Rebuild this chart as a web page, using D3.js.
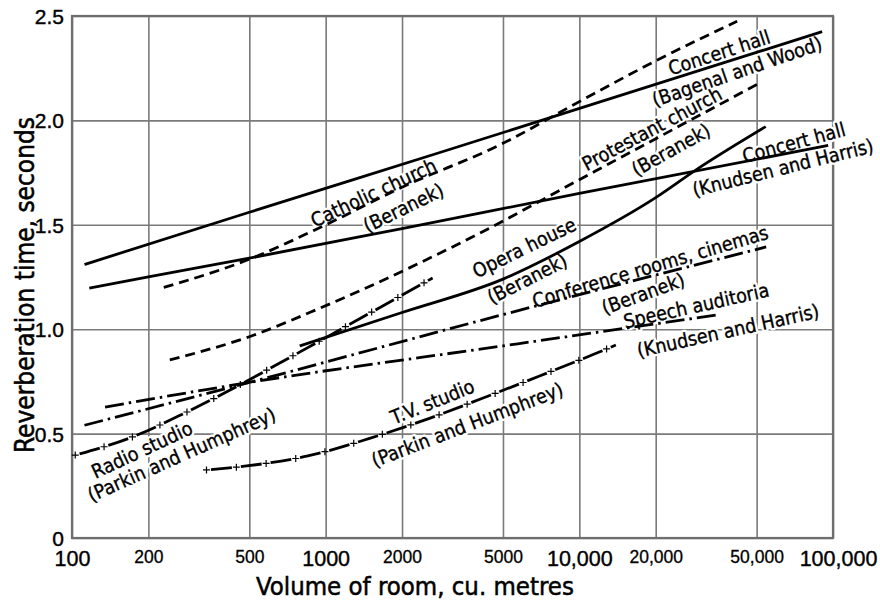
<!DOCTYPE html>
<html><head><meta charset="utf-8">
<script src="https://cdn.jsdelivr.net/npm/d3@7/dist/d3.min.js"></script>
<style>
body{margin:0;background:#fff;}
svg{display:block;font-family:"DejaVu Sans Condensed","DejaVu Sans",sans-serif;}
</style></head><body>
<svg id="chart" width="880" height="601"></svg>
<script>
// ---- data ----
const xMajorTicks = [100, 1000, 10000, 100000];
const xMajorLabels = ["100", "1000", "10,000", "100,000"];
const xMinorTicks = [200, 500, 2000, 5000, 20000, 50000];
const xMinorLabels = ["200", "500", "2000", "5000", "20,000", "50,000"];
const yTicks = [0, 0.5, 1.0, 1.5, 2.0, 2.5];
const yLabels = ["0", "0.5", "1.0", "1.5", "2.0", "2.5"];

// [volume m3, reverberation time s]
const concertHallBagenal = [[112,1.31],[500,1.56],[2800,1.845],[90600,2.425]];
const concertHallKnudsen = [[117,1.197],[200,1.251],[500,1.34],[2000,1.482],[10000,1.65],[95700,1.88]];
const catholicChurch = [[230,1.2],[500,1.335],[1000,1.5],[2000,1.68],[5000,1.89],[10000,2.09],[20000,2.285],[41900,2.475]];
const protestantChurch = [[243,0.853],[500,0.964],[946,1.10],[4036,1.459],[10000,1.716],[51200,2.178]];
const operaHouse = [[790,0.92],[2000,1.08],[5000,1.24],[10000,1.42],[20000,1.63],[28770,1.762],[54300,1.97]];
const conferenceRooms = [[112,0.54],[500,0.745],[5000,1.07],[54500,1.394]];
const speechAuditoria = [[135,0.627],[500,0.745],[5000,0.92],[34900,1.068]];
const radioStudio = [[103,0.397],[174,0.485],[279,0.599],[458,0.733],[659,0.838],[2640,1.245]];
const tvStudio = [[339,0.326],[488,0.345],[851,0.393],[1489,0.477],[2565,0.573],[4150,0.669],[6970,0.776],[11460,0.881],[13930,0.924]];

const seriesList = [
  {data: concertHallBagenal, style: "solid"},
  {data: concertHallKnudsen, style: "solid"},
  {data: catholicChurch, style: "dash"},
  {data: protestantChurch, style: "dash"},
  {data: operaHouse, style: "solid"},
  {data: conferenceRooms, style: "dashdot"},
  {data: speechAuditoria, style: "dashdot"},
  {data: radioStudio, style: "cross"},
  {data: tvStudio, style: "cross"}
];

// annotation text: [text, volume, time, angle]
const annotations = [
  ["Concert hall", 35600, 2.323, -18],
  ["(Bagenal and Wood)", 41900, 2.232, -19],
  ["Catholic church", 1546, 1.652, -25],
  ["(Beranek)", 2028, 1.580, -26],
  ["Protestant church", 19360, 1.959, -28],
  ["(Beranek)", 23000, 1.858, -29],
  ["Concert hall", 70100, 1.892, -15],
  ["(Knudsen and Harris)", 63500, 1.772, -14],
  ["Opera house", 6070, 1.389, -26],
  ["(Beranek)", 6240, 1.240, -27],
  ["Conference rooms, cinemas", 19050, 1.298, -16.5],
  ["(Beranek)", 17860, 1.169, -20],
  ["Speech auditoria", 28900, 1.111, -12.5],
  ["(Knudsen and Harris)", 38600, 0.991, -12.5],
  ["Radio studio", 189, 0.421, -25],
  ["(Parkin and Humphrey)", 271, 0.398, -24],
  ["T.V. studio", 2640, 0.651, -22],
  ["(Parkin and Humphrey)", 3620, 0.541, -21]
];

// ---- drawing ----
const svg = d3.select("#chart");
const L = 72, R = 833, T = 16, B = 538;
const x = d3.scaleLog().domain([100, 100000]).range([L, R]);
const y = d3.scaleLinear().domain([0, 2.5]).range([B, T]);

svg.append("rect").attr("width", 880).attr("height", 601).attr("fill", "#fff");

// grid
const gridX = svg.append("g").attr("transform", `translate(0,${B})`)
  .call(d3.axisBottom(x).tickValues(xMajorTicks.concat(xMinorTicks)).tickSize(-(B - T)).tickFormat(""));
gridX.select(".domain").remove();
gridX.selectAll("line").attr("stroke", "#7a7a7a").attr("stroke-width", 1.6);
const gridY = svg.append("g").attr("transform", `translate(${L},0)`)
  .call(d3.axisLeft(y).tickValues(yTicks).tickSize(-(R - L)).tickFormat(""));
gridY.select(".domain").remove();
gridY.selectAll("line").attr("stroke", "#7a7a7a").attr("stroke-width", 1.6);

// frame
svg.append("rect").attr("x", L).attr("y", T).attr("width", R - L).attr("height", B - T)
  .attr("fill", "none").attr("stroke", "#6e6e6e").attr("stroke-width", 2.2);

// annotation halos
const annG = svg.append("g");
function placeText(sel) {
  sel.attr("transform", d => `translate(${x(d[1])},${y(d[2])}) rotate(${d[3]})`)
    .attr("text-anchor", "middle").attr("dominant-baseline", "central")
    .attr("font-size", 19.5).text(d => d[0]);
}
annG.selectAll("text").data(annotations).join("text")
  .call(placeText).attr("fill", "#fff").attr("stroke", "#fff").attr("stroke-width", 5)
  .attr("stroke-linejoin", "round");

// curves
const line = d3.line().x(d => x(d[0])).y(d => y(d[1])).curve(d3.curveMonotoneX);
const curveG = svg.append("g").attr("fill", "none").attr("stroke", "#000");
const dashes = {solid: null, dash: "10 6", dashdot: "19 5 2.5 5", cross: "0 4.5 21 4.5"};
seriesList.forEach(s => {
  const p = curveG.append("path").attr("d", line(s.data))
    .attr("stroke-width", 2.8).attr("stroke-dasharray", dashes[s.style]);
  if (s.style === "cross") {
    const node = p.node();
    const len = node.getTotalLength();
    for (let t = 0; t <= len; t += 30) {
      const pt = node.getPointAtLength(t);
      curveG.append("path")
        .attr("d", `M${pt.x - 3.5},${pt.y}H${pt.x + 3.5}M${pt.x},${pt.y - 3.5}V${pt.y + 3.5}`)
        .attr("stroke-width", 1.2);
    }
  }
});

// annotation text
svg.append("g").selectAll("text").data(annotations).join("text")
  .call(placeText).attr("fill", "#000").attr("stroke", "#000").attr("stroke-width", 0.35);

// axis labels
const axM = svg.append("g").attr("transform", `translate(0,${B + 10})`)
  .call(d3.axisBottom(x).tickValues(xMajorTicks).tickSize(0).tickFormat((d, i) => xMajorLabels[i]));
axM.select(".domain").remove();
axM.selectAll("text").attr("font-family", null).attr("font-size", 21.5).attr("fill", "#000")
  .attr("stroke", "#000").attr("stroke-width", 0.4).attr("dy", "0.71em");
const axm = svg.append("g").attr("transform", `translate(0,${B + 10})`)
  .call(d3.axisBottom(x).tickValues(xMinorTicks).tickSize(0).tickFormat((d, i) => xMinorLabels[i]));
axm.select(".domain").remove();
axm.selectAll("text").attr("font-family", null).attr("font-size", 17.5).attr("fill", "#000")
  .attr("stroke", "#000").attr("stroke-width", 0.3).attr("dy", "0.71em");
axM.selectAll(".tick text").filter(function(){return this.textContent === "100,000";}).attr("x", 5);

const axY = svg.append("g").attr("transform", `translate(${L - 5},0)`)
  .call(d3.axisLeft(y).tickValues(yTicks).tickSize(0).tickFormat((d, i) => yLabels[i]));
axY.select(".domain").remove();
axY.selectAll("text").attr("font-family", null).attr("font-size", 21).attr("fill", "#000")
  .attr("stroke", "#000").attr("stroke-width", 0.4).attr("dy", "0.36em");

// titles
svg.append("text").attr("x", 415).attr("y", 595).attr("text-anchor", "middle")
  .attr("font-size", 25.5).attr("fill", "#000").attr("stroke", "#000").attr("stroke-width", 0.5)
  .text("Volume of room, cu. metres");
svg.append("text").attr("transform", "translate(34,285) rotate(-90)").attr("text-anchor", "middle")
  .attr("font-size", 26).attr("fill", "#000").attr("stroke", "#000").attr("stroke-width", 0.5)
  .text("Reverberation time, seconds");
</script></body></html>
